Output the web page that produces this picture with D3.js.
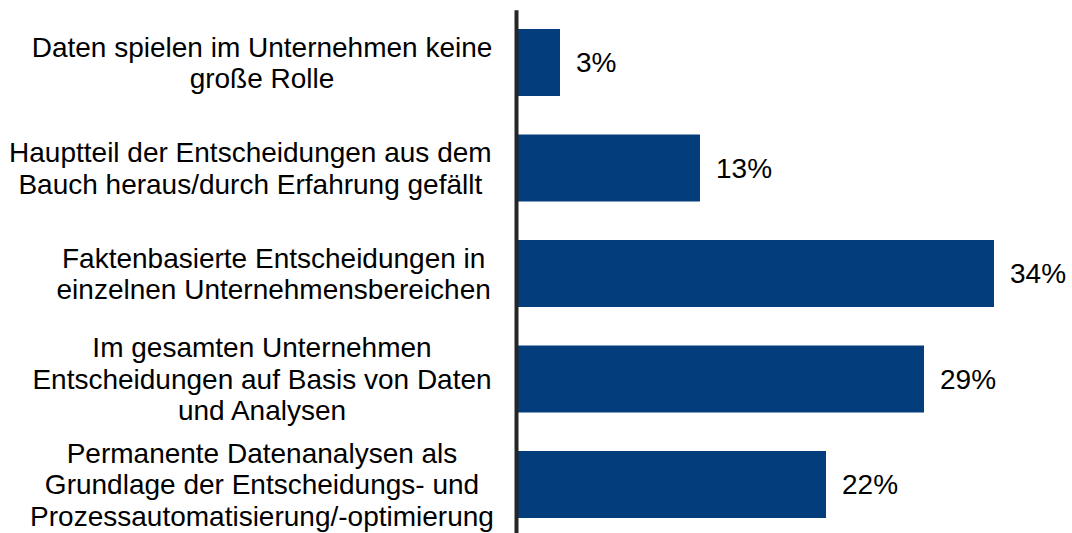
<!DOCTYPE html>
<html>
<head>
<meta charset="utf-8">
<script src="https://cdn.jsdelivr.net/npm/d3@7"></script>
<style>
  body { margin: 0; background: #fff; }
  text { font-family: "Liberation Sans", Arial, sans-serif; fill: #000; white-space: pre; }
</style>
</head>
<body>
<div id="chart"></div>
<script>
// line breaks as in the source slide (incl. its stray spaces)
var categories = [
  "Daten spielen im Unternehmen keine|große Rolle",
  "Hauptteil der Entscheidungen aus dem   |Bauch heraus/durch Erfahrung gefällt   ",
  "   Faktenbasierte Entscheidungen in|   einzelnen Unternehmensbereichen",
  "Im gesamten Unternehmen|Entscheidungen auf Basis von Daten|und Analysen",
  "Permanente Datenanalysen als|Grundlage der Entscheidungs- und|Prozessautomatisierung/-optimierung"
];
var values = [3, 13, 34, 29, 22];
var valueLabels = ["3%", "13%", "34%", "29%", "22%"];

var width = 1072, height = 533;
var margin = { left: 516, top: 10 };
var fontSize = 28, lineHeight = 31.6;

var svg = d3.select("#chart").append("svg")
  .attr("width", width)
  .attr("height", height);

var y = d3.scaleBand()
  .domain(categories)
  .range([9.75, 537.25])
  .paddingInner(0.365)
  .paddingOuter(0.1825);

var x = d3.scaleLinear()
  .domain([0, 34])
  .range([margin.left + 2, margin.left + 2 + 476]);

// bars
svg.selectAll("rect.bar")
  .data(values)
  .enter()
  .append("rect")
  .attr("class", "bar")
  .attr("x", x(0))
  .attr("y", function (d, i) { return y(categories[i]); })
  .attr("width", function (d) { return x(d) - x(0); })
  .attr("height", y.bandwidth())
  .style("fill", "#033d7c");

// value labels
svg.selectAll("text.val")
  .data(values)
  .enter()
  .append("text")
  .attr("class", "val")
  .attr("x", function (d) { return x(d) + 16; })
  .attr("y", function (d, i) { return y(categories[i]) + y.bandwidth() / 2; })
  .attr("dy", "0.35em")
  .style("font-size", fontSize + "px")
  .text(function (d, i) { return valueLabels[i]; });

// category axis
var yAxis = d3.axisLeft(y).tickSize(0).tickPadding(0);
var gAxis = svg.append("g")
  .attr("transform", "translate(" + margin.left + ",0)")
  .call(yAxis);

gAxis.select(".domain")
  .attr("stroke", "#262626")
  .attr("stroke-width", 4);

gAxis.selectAll(".tick text")
  .attr("text-anchor", "middle")
  .attr("font-family", null)
  .attr("font-size", null)
  .style("font-size", fontSize + "px")
  .each(function (d) {
    var t = d3.select(this);
    var lines = d.split("|");
    t.text(null).attr("dy", null);
    lines.forEach(function (line, j) {
      t.append("tspan")
        .attr("x", -254)
        .attr("y", (j - (lines.length - 1) / 2) * lineHeight)
        .attr("dy", "0.35em")
        .text(line);
    });
  });
</script>
</body>
</html>
